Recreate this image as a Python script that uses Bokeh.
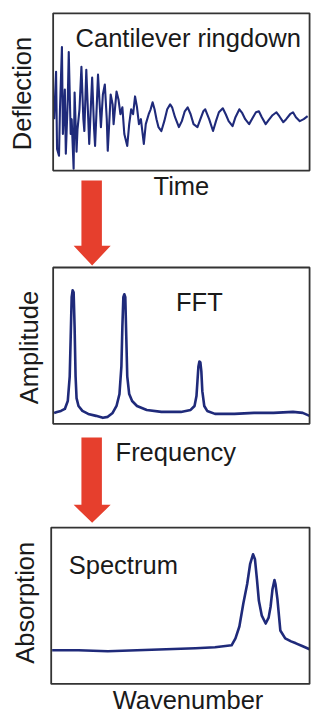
from math import pi
from bokeh.plotting import figure
from bokeh.models import Range1d
from bokeh.core.properties import value
from bokeh.embed import file_html
from bokeh.resources import INLINE

# ---------------- data (arbitrary units) ----------------
# Cantilever ringdown: time vs deflection
ring_time = [1, 3, 4, 6, 7, 9, 10, 12, 13, 15, 16, 18, 19, 21, 22, 24, 25, 27, 29, 31,
             32, 34, 36, 37, 39, 40, 42, 43, 45, 46, 48, 49, 51, 53, 55, 56, 58, 59, 61, 62,
             65, 67, 69, 71, 73, 76, 78, 80, 82, 84, 86, 88, 90, 93, 95, 98, 100, 102, 104, 106,
             108, 111, 114, 117, 120, 122, 125, 129, 132, 135, 138, 141, 144, 148, 151, 154, 156, 160, 164, 167,
             170, 174, 177, 180, 184, 187, 191, 194, 197, 201, 205, 208, 211, 214, 218, 221, 225, 229, 232, 236,
             239, 243, 246, 249, 253, 257, 261]
ring_defl = [-3, 45, -33, -40, 7, 70, -18, 27, -38, 17, 65, -18, -3, -53, 24, -36, -13, 7, 50, -3,
             -15, 47, -3, -28, 17, 39, -13, -30, 17, 42, 7, -11, 22, 32, -3, -35, 2, 22, 12, -8,
             25, 17, 2, 9, -18, -30, -8, 7, 2, 20, 9, -8, -3, -28, -8, 2, 7, 14, 7, -3,
             -11, -15, -5, 7, 12, 9, -1, -11, -5, 5, 9, 2, -8, -11, -3, 5, 7, -3, -15, -5,
             4, 8, 2, -5, -10, -1, 7, 3, -3, -8, -1, 4, 5, -1, -8, -4, 1, 4, 0, -6,
             -3, 2, 4, -1, -5, -3, 0]

# FFT: frequency vs amplitude
fft_freq = [1, 4, 8, 12, 15, 17, 18, 19, 20, 21, 22, 23, 24, 26, 30, 36, 44, 51, 56, 61,
            65, 68, 70, 71, 72, 73, 74, 75, 76, 78, 81, 86, 96, 111, 131, 141, 145, 147, 148, 149,
            150, 151, 152, 153, 155, 158, 166, 186, 206, 226, 246, 256, 263]
fft_amp = [11, 12, 13, 15, 23, 48, 88, 128, 135, 133, 98, 48, 26, 18, 13, 10, 8, 6, 7, 11,
           18, 30, 58, 98, 128, 131, 128, 88, 48, 30, 23, 18, 14, 12, 12, 14, 18, 28, 43, 58,
           63, 62, 53, 33, 18, 13, 10, 10, 11, 11, 12, 11, 8]

# Spectrum: wavenumber vs absorption
spec_wn = [1, 28, 58, 88, 118, 148, 168, 185, 189, 193, 197, 201, 204, 207, 209, 211, 213, 216, 220, 223,
           225, 227, 229, 230, 232, 235, 240, 246, 251, 258, 265]
spec_abs = [34, 34, 33, 34, 35, 36, 37, 39, 46, 58, 81, 101, 121, 131, 126, 106, 84, 69, 61, 67,
            78, 96, 105, 101, 86, 54, 46, 43, 41, 38, 35]

# panel axis limits (data units)
ring_xlim, ring_ylim = (0, 263), (-55, 104)
fft_xlim, fft_ylim = (0, 263), (0, 158)
spec_xlim, spec_ylim = (0, 265), (0, 158)

titles = ["Cantilever ringdown", "FFT", "Spectrum"]
xlabels = ["Time", "Frequency", "Wavenumber"]
ylabels = ["Deflection", "Amplitude", "Absorption"]

# ---------------- layout ----------------
# The canvas is addressed in "sheet" units (320 x 725, top-left origin),
# squeezed by the range mapping into a 312 x 717 plot.
W, H = 312, 717
SW, SH = 320, 725

NAVY = "#1f2a7a"
RED = "#e63f2d"
INK = "#1a1a1a"
FONT = value("Liberation Sans")
FS = "25.5px"

p = figure(width=W, height=H, output_backend="svg", toolbar_location=None,
           x_range=Range1d(0, SW), y_range=Range1d(SH, 0),
           x_axis_location=None, y_axis_location=None, min_border=0,
           background_fill_color="white", border_fill_color="white")
p.outline_line_color = None
for g in p.grid:
    g.visible = False

# panel boxes in sheet units: (left, right, top, bottom)
boxes = [(54, 317, 13, 172), (54, 317, 270, 428), (52, 317, 533, 691)]


def panel_ranges(box, xlim, ylim):
    L, R, T, B = box
    x0, x1 = xlim
    y0, y1 = ylim
    sx = (x1 - x0) / (R - L)
    sy = (y1 - y0) / (B - T)
    xr = Range1d(x0 - L * sx, x1 + (SW - R) * sx)
    yr = Range1d(y0 - (SH - B) * sy, y1 + T * sy)
    return xr, yr


series = [(ring_time, ring_defl, ring_xlim, ring_ylim, 2.1),
          (fft_freq, fft_amp, fft_xlim, fft_ylim, 2.6),
          (spec_wn, spec_abs, spec_xlim, spec_ylim, 2.6)]
for i, (box, (xs, ys, xl, yl, lw)) in enumerate(zip(boxes, series)):
    xr, yr = panel_ranges(box, xl, yl)
    p.extra_x_ranges[f"x{i}"] = xr
    p.extra_y_ranges[f"y{i}"] = yr
    p.line(xs, ys, x_range_name=f"x{i}", y_range_name=f"y{i}",
           line_color=NAVY, line_width=lw, line_join="round")

# box outlines
p.quad(left=[b[0] for b in boxes], right=[b[1] for b in boxes],
       top=[b[2] for b in boxes], bottom=[b[3] for b in boxes],
       fill_color=None, line_color="#333333", line_width=1.8)

# red arrows (shaft top, head start, tip)
for top, hb, tip in [(182, 248, 268), (442, 510, 528)]:
    p.patch([83, 104, 104, 113, 94, 75, 83], [top, top, hb, hb, tip, hb, hb],
            fill_color=RED, line_color=None)

# texts (anchored at the centre of the capital letters)
p.text(x=[77, 180, 70], y=[38, 305, 571], text=titles,
       text_font=FONT, text_font_size=FS, text_color=INK,
       text_align="left", text_baseline="middle")
p.text(x=[157, 118, 115], y=[187.5, 457, 707], text=xlabels,
       text_font=FONT, text_font_size=FS, text_color=INK,
       text_align="left", text_baseline="middle")
p.text(x=[22.5, 29, 25], y=[94, 351, 609], text=ylabels, angle=pi / 2,
       text_font=FONT, text_font_size=FS, text_color=INK,
       text_align="center", text_baseline="middle")

open("out.html", "w").write(file_html(p, INLINE))
